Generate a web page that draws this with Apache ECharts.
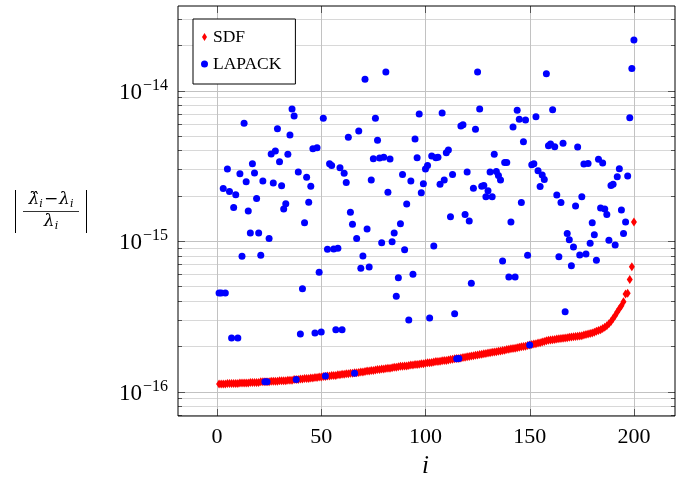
<!DOCTYPE html>
<html><head><meta charset="utf-8">
<script src="https://cdn.jsdelivr.net/npm/echarts@6/dist/echarts.min.js"></script>
<style>html,body{margin:0;padding:0;background:#fff}#c{width:681px;height:485px}</style>
</head><body><div id="c"></div>
<script>
// ---- data ----
const sdf = [
1.12e-16,1.12e-16,1.12e-16,1.12e-16,1.13e-16,1.13e-16,1.13e-16,1.13e-16,1.13e-16,1.13e-16,
1.14e-16,1.14e-16,1.14e-16,1.14e-16,1.14e-16,1.15e-16,1.15e-16,1.15e-16,1.15e-16,1.15e-16,
1.16e-16,1.16e-16,1.16e-16,1.16e-16,1.16e-16,1.17e-16,1.17e-16,1.17e-16,1.17e-16,1.18e-16,
1.18e-16,1.18e-16,1.18e-16,1.19e-16,1.19e-16,1.19e-16,1.20e-16,1.20e-16,1.20e-16,1.21e-16,
1.21e-16,1.22e-16,1.22e-16,1.22e-16,1.23e-16,1.23e-16,1.24e-16,1.24e-16,1.25e-16,1.25e-16,
1.26e-16,1.26e-16,1.27e-16,1.27e-16,1.28e-16,1.28e-16,1.28e-16,1.29e-16,1.29e-16,1.30e-16,
1.30e-16,1.31e-16,1.31e-16,1.32e-16,1.32e-16,1.33e-16,1.33e-16,1.34e-16,1.35e-16,1.35e-16,
1.36e-16,1.37e-16,1.37e-16,1.38e-16,1.38e-16,1.39e-16,1.40e-16,1.40e-16,1.41e-16,1.41e-16,
1.42e-16,1.43e-16,1.43e-16,1.44e-16,1.45e-16,1.45e-16,1.46e-16,1.47e-16,1.47e-16,1.48e-16,
1.48e-16,1.49e-16,1.50e-16,1.50e-16,1.51e-16,1.51e-16,1.52e-16,1.53e-16,1.53e-16,1.54e-16,
1.55e-16,1.55e-16,1.56e-16,1.57e-16,1.58e-16,1.58e-16,1.59e-16,1.60e-16,1.61e-16,1.61e-16,
1.62e-16,1.63e-16,1.64e-16,1.65e-16,1.66e-16,1.66e-16,1.67e-16,1.68e-16,1.69e-16,1.70e-16,
1.71e-16,1.72e-16,1.73e-16,1.74e-16,1.75e-16,1.76e-16,1.77e-16,1.78e-16,1.79e-16,1.80e-16,
1.81e-16,1.82e-16,1.83e-16,1.84e-16,1.85e-16,1.86e-16,1.87e-16,1.88e-16,1.90e-16,1.91e-16,
1.92e-16,1.93e-16,1.94e-16,1.95e-16,1.97e-16,1.98e-16,1.99e-16,2.00e-16,2.02e-16,2.04e-16,
2.05e-16,2.07e-16,2.08e-16,2.10e-16,2.11e-16,2.13e-16,2.15e-16,2.17e-16,2.19e-16,2.20e-16,
2.21e-16,2.22e-16,2.23e-16,2.24e-16,2.25e-16,2.26e-16,2.27e-16,2.28e-16,2.29e-16,2.30e-16,
2.31e-16,2.32e-16,2.33e-16,2.34e-16,2.35e-16,2.37e-16,2.39e-16,2.41e-16,2.43e-16,2.45e-16,
2.48e-16,2.51e-16,2.54e-16,2.57e-16,2.62e-16,2.67e-16,2.74e-16,2.82e-16,2.92e-16,3.05e-16,
3.20e-16,3.38e-16,3.55e-16,3.72e-16,3.95e-16,4.45e-16,4.50e-16,5.56e-16,6.75e-16,1.34e-15
];
const lapack = [
4.51e-16,4.51e-16,2.23e-15,4.51e-16,3.01e-15,2.13e-15,2.27e-16,1.67e-15,2.03e-15,2.27e-16,
2.80e-15,7.91e-16,6.05e-15,2.48e-15,1.58e-15,1.13e-15,3.26e-15,2.83e-15,1.92e-15,1.13e-15,
8.03e-16,2.50e-15,1.16e-16,1.16e-16,1.04e-15,3.78e-15,2.43e-15,3.96e-15,5.57e-15,3.36e-15,
2.33e-15,1.63e-15,1.77e-15,3.77e-15,5.06e-15,7.54e-15,6.77e-15,1.20e-16,2.87e-15,2.41e-16,
4.82e-16,1.32e-15,2.65e-15,1.81e-15,2.31e-15,4.10e-15,2.45e-16,4.17e-15,6.19e-16,2.49e-16,
6.54e-15,1.27e-16,8.81e-16,3.26e-15,3.17e-15,8.86e-16,2.57e-16,8.94e-16,3.07e-15,2.57e-16,
2.82e-15,2.45e-15,4.89e-15,1.55e-15,1.29e-15,1.32e-16,1.04e-15,5.38e-15,6.59e-16,7.95e-16,
1.19e-14,1.20e-15,6.72e-16,2.54e-15,3.52e-15,6.54e-15,4.67e-15,3.56e-15,9.75e-16,3.60e-15,
1.33e-14,2.11e-15,3.51e-15,9.89e-16,1.13e-15,4.29e-16,5.70e-16,1.30e-15,2.77e-15,8.75e-16,
1.76e-15,2.99e-16,2.50e-15,6.01e-16,4.76e-15,3.58e-15,6.98e-15,2.09e-15,2.40e-15,3.01e-15,
3.17e-15,3.08e-16,3.67e-15,9.27e-16,3.58e-15,3.60e-15,2.38e-15,7.09e-15,2.54e-15,3.86e-15,
4.02e-15,1.45e-15,2.77e-15,3.29e-16,1.65e-16,1.66e-16,5.81e-15,5.93e-15,1.50e-15,2.87e-15,
1.36e-15,5.24e-16,2.24e-15,5.52e-15,1.33e-14,7.54e-15,2.31e-15,2.34e-15,1.97e-15,2.16e-15,
2.87e-15,1.97e-15,3.77e-15,2.90e-15,2.72e-15,2.54e-15,7.36e-16,3.33e-15,3.33e-15,5.76e-16,
1.34e-15,5.72e-15,5.76e-16,7.38e-15,6.44e-15,1.80e-15,4.57e-15,6.37e-15,8.03e-16,2.04e-16,
3.21e-15,3.26e-15,6.70e-15,2.93e-15,2.30e-15,2.75e-15,2.56e-15,1.29e-14,4.30e-15,4.41e-15,
7.46e-15,4.23e-15,2.02e-15,7.87e-16,1.80e-15,4.46e-15,3.39e-16,1.12e-15,1.02e-15,6.85e-16,
9.12e-16,1.71e-15,4.21e-15,8.07e-16,1.97e-15,3.25e-15,8.20e-16,3.28e-15,9.66e-16,1.32e-15,
1.10e-15,7.45e-16,3.49e-15,1.66e-15,3.30e-15,1.63e-15,1.50e-15,1.01e-15,2.34e-15,2.38e-15,
9.40e-16,2.67e-15,3.02e-15,1.61e-15,1.12e-15,1.34e-15,2.70e-15,6.59e-15,1.40e-14,2.17e-14
];
const xTicks = [0, 50, 100, 150, 200];
const yMajorTicks = [1e-16, 1e-15, 1e-14];
const yMinorTicks = [7e-17,8e-17,9e-17,2e-16,3e-16,4e-16,5e-16,6e-16,7e-16,8e-16,9e-16,
  2e-15,3e-15,4e-15,5e-15,6e-15,7e-15,8e-15,9e-15,2e-14,3e-14];

// ---- build ----
const X_MIN = -18.7, X_MAX = 219.7, Y_MIN = 6.875e-17, Y_MAX = 3.644e-14;
const sdfData = sdf.map((v, k) => [k + 1, v]);
const lapackData = lapack.map((v, k) => [k + 1, v]);
const gridData = [];
yMajorTicks.forEach(v => gridData.push([0, v, 0, 1]));
yMinorTicks.forEach(v => gridData.push([0, v, 0, 0]));
xTicks.forEach(v => gridData.push([v, 1e-15, 1, 1]));

function renderGrid(params, api) {
  const cs = params.coordSys;
  const kind = api.value(2), major = api.value(3);
  const col = major ? '#c2c2c2' : '#d8d8d8';
  const len = major ? 7 : 4;
  const tickCol = '#555';
  const p = api.coord([api.value(0), api.value(1)]);
  if (kind === 0) {
    const y = Math.round(p[1]) + 0.5;
    const L = cs.x, R = cs.x + cs.width;
    return {type: 'group', children: [
      {type: 'line', shape: {x1: L, y1: y, x2: R, y2: y}, style: {stroke: col, lineWidth: 1}},
      {type: 'line', shape: {x1: L, y1: y, x2: L + len, y2: y}, style: {stroke: tickCol, lineWidth: 1}},
      {type: 'line', shape: {x1: R - len, y1: y, x2: R, y2: y}, style: {stroke: tickCol, lineWidth: 1}}
    ]};
  } else {
    const x = Math.round(p[0]) + 0.5;
    const T = cs.y, B = cs.y + cs.height;
    return {type: 'group', children: [
      {type: 'line', shape: {x1: x, y1: T, x2: x, y2: B}, style: {stroke: col, lineWidth: 1}},
      {type: 'line', shape: {x1: x, y1: T, x2: x, y2: T + len}, style: {stroke: tickCol, lineWidth: 1}},
      {type: 'line', shape: {x1: x, y1: B - len, x2: x, y2: B}, style: {stroke: tickCol, lineWidth: 1}}
    ]};
  }
}

const SERIF = 'Liberation Serif';
const diamondPath = 'path://M0,-4L2.5,0L0,4L-2.5,0Z';

const chart = echarts.init(document.getElementById('c'), null, {renderer: 'canvas'});
chart.setOption({
  animation: false,
  backgroundColor: '#fff',
  grid: [
    {left: 178, top: 6, width: 497, height: 410, show: true, borderColor: '#000', borderWidth: 1, backgroundColor: 'transparent', z: 3},
    {left: 217, top: 6, width: 417, height: 410},
    {left: 178, top: 90.5, width: 497, height: 301}
  ],
  xAxis: [
    {gridIndex: 0, type: 'value', min: X_MIN, max: X_MAX, show: false},
    {gridIndex: 1, type: 'value', min: 0, max: 200, interval: 50,
      axisLine: {show: false}, axisTick: {show: false}, splitLine: {show: false},
      axisLabel: {color: '#000', fontFamily: SERIF, fontSize: 22, margin: 10},
      name: 'i', nameLocation: 'middle', nameGap: 38,
      nameTextStyle: {color: '#000', fontFamily: SERIF, fontStyle: 'italic', fontSize: 25}},
    {gridIndex: 2, type: 'value', min: 0, max: 1, show: false}
  ],
  yAxis: [
    {gridIndex: 0, type: 'log', logBase: 10, min: Y_MIN, max: Y_MAX, show: false},
    {gridIndex: 1, type: 'value', min: 0, max: 1, show: false},
    {gridIndex: 2, type: 'value', min: -16, max: -14, interval: 1,
      axisLine: {show: false}, axisTick: {show: false}, splitLine: {show: false},
      axisLabel: {margin: 10, formatter: v => '{b|10}{s|\u2212' + Math.abs(v) + '}',
        rich: {b: {color: '#000', fontFamily: SERIF, fontSize: 23, padding: [4, 0, 0, 0]},
               s: {color: '#000', fontFamily: SERIF, fontSize: 16, padding: [0, 0, 10, 1]}}}}
  ],
  legend: {
    left: 193, top: 19, orient: 'vertical',
    data: [{name: 'SDF', icon: diamondPath}, {name: 'LAPACK', icon: 'circle'}],
    itemWidth: 7, itemHeight: 8, itemGap: 9,
    padding: [9, 14, 11, 8],
    borderColor: '#000', borderWidth: 1, backgroundColor: '#fff',
    textStyle: {color: '#000', fontFamily: SERIF, fontSize: 17.5},
    selectedMode: false
  },
  graphic: [
    {type: 'line', shape: {x1: 15.5, y1: 190, x2: 15.5, y2: 233}, style: {stroke: '#000', lineWidth: 1}},
    {type: 'line', shape: {x1: 86.5, y1: 190, x2: 86.5, y2: 233}, style: {stroke: '#000', lineWidth: 1}},
    {type: 'line', shape: {x1: 23, y1: 211.5, x2: 79, y2: 211.5}, style: {stroke: '#000', lineWidth: 0.8}},
    {type: 'text', x: 51, y: 200, style: {
      text: '{l|\u03bb\u0302}{s|i}{m|\u2212}{l|\u03bb}{s|i}', align: 'center', verticalAlign: 'middle',
      rich: {l: {fontFamily: 'DejaVu Serif', fontStyle: 'italic', fontSize: 17, fill: '#000'},
             m: {fontFamily: 'DejaVu Serif', fontSize: 17, fill: '#000', padding: [0, 1, 0, 1]},
             s: {fontFamily: 'DejaVu Serif', fontStyle: 'italic', fontSize: 11, fill: '#000', padding: [8, 0, 0, 0]}}}},
    {type: 'text', x: 51, y: 222, style: {
      text: '{l|\u03bb}{s|i}', align: 'center', verticalAlign: 'middle',
      rich: {l: {fontFamily: 'DejaVu Serif', fontStyle: 'italic', fontSize: 17, fill: '#000'},
             s: {fontFamily: 'DejaVu Serif', fontStyle: 'italic', fontSize: 11, fill: '#000', padding: [8, 0, 0, 0]}}}}
  ],
  series: [
    {name: 'grid', type: 'custom', xAxisIndex: 0, yAxisIndex: 0, data: gridData,
      renderItem: renderGrid, silent: true, z: 1, encode: {x: 0, y: 1}},
    {name: 'SDF', type: 'scatter', xAxisIndex: 0, yAxisIndex: 0, data: sdfData,
      symbol: 'diamond', symbolSize: [6, 9], itemStyle: {color: '#ff0000', opacity: 1}, z: 4, silent: true},
    {name: 'LAPACK', type: 'scatter', xAxisIndex: 0, yAxisIndex: 0, data: lapackData,
      symbol: 'circle', symbolSize: 7, itemStyle: {color: '#0000ff', opacity: 1}, z: 5, silent: true}
  ]
});
</script></body></html>
